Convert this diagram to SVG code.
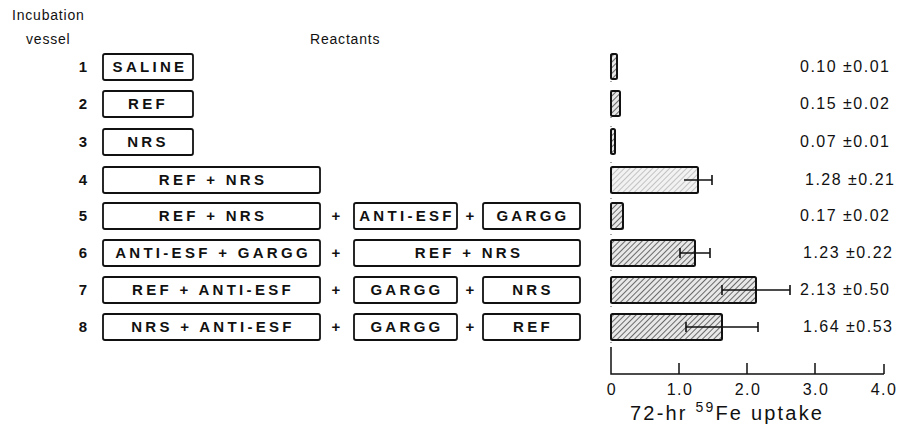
<svg xmlns="http://www.w3.org/2000/svg" width="906" height="436" viewBox="0 0 906 436">
<style>
.hdr{font-family:"Liberation Sans",Arial,sans-serif;font-size:14px;fill:#111;letter-spacing:0.8px}
.num{font-family:"Liberation Sans",Arial,sans-serif;font-size:15px;font-weight:bold;fill:#111;text-anchor:middle}
.box{fill:#fff;stroke:#111;stroke-width:1.8}
.lbl{font-family:"Liberation Sans",Arial,sans-serif;font-size:15px;font-weight:bold;fill:#111;text-anchor:middle;letter-spacing:3.3px}
.plus{font-family:"Liberation Sans",Arial,sans-serif;font-size:15px;font-weight:bold;fill:#111;text-anchor:middle}
.bar{fill:url(#hatch);stroke:#111;stroke-width:2}
.barl{fill:url(#hatchl);stroke:#111;stroke-width:2}
.err{stroke:#111;stroke-width:1.6;fill:none}
.val{font-family:"Liberation Sans",Arial,sans-serif;font-size:16px;fill:#111;letter-spacing:1.5px}
.tick{font-family:"Liberation Sans",Arial,sans-serif;font-size:16px;fill:#111;text-anchor:middle;letter-spacing:1.5px}
.axis{stroke:#111;stroke-width:1.5;fill:none}
</style>
<defs>
<pattern id="hatch" patternUnits="userSpaceOnUse" width="4" height="4" patternTransform="rotate(45)">
<rect width="4" height="4" fill="#e8e8e8"/>
<line x1="0" y1="0" x2="0" y2="4" stroke="#333" stroke-width="1.4"/>
</pattern>
<pattern id="hatchl" patternUnits="userSpaceOnUse" width="4" height="4" patternTransform="rotate(45)">
<rect width="4" height="4" fill="#f2f2f2"/>
<line x1="0" y1="0" x2="0" y2="4" stroke="#888" stroke-width="0.9"/>
</pattern>
</defs>
<rect width="906" height="436" fill="#fff"/>

<g id="headers">
<text class="hdr" x="12" y="20">Incubation</text>
<text class="hdr" x="26" y="44">vessel</text>
<text class="hdr" x="310" y="44">Reactants</text>
</g>

<g id="row1">
<text class="num" x="83" y="72">1</text>
<rect class="box" x="103" y="54" width="90" height="26" rx="2"/>
<text class="lbl" x="150" y="72">SALINE</text>
</g>
<g id="row2">
<text class="num" x="83" y="109">2</text>
<rect class="box" x="103" y="91" width="90" height="26" rx="2"/>
<text class="lbl" x="148" y="109">REF</text>
</g>
<g id="row3">
<text class="num" x="83" y="147">3</text>
<rect class="box" x="103" y="129" width="90" height="26" rx="2"/>
<text class="lbl" x="148" y="147">NRS</text>
</g>
<g id="row4">
<text class="num" x="83" y="185">4</text>
<rect class="box" x="103" y="167" width="217" height="26" rx="2"/>
<text class="lbl" x="213" y="185">REF + NRS</text>
</g>
<g id="row5">
<text class="num" x="83" y="221">5</text>
<rect class="box" x="103" y="203" width="217" height="26" rx="2"/>
<text class="lbl" x="213" y="221">REF + NRS</text>
<text class="plus" x="336" y="221">+</text>
<rect class="box" x="354" y="203" width="103" height="26" rx="2"/>
<text class="lbl" x="407" y="221">ANTI-ESF</text>
<text class="plus" x="470" y="221">+</text>
<rect class="box" x="483" y="203" width="97" height="26" rx="2"/>
<text class="lbl" x="533" y="221">GARGG</text>
</g>
<g id="row6">
<text class="num" x="83" y="258">6</text>
<rect class="box" x="103" y="240" width="217" height="26" rx="2"/>
<text class="lbl" x="213" y="258">ANTI-ESF + GARGG</text>
<text class="plus" x="336" y="258">+</text>
<rect class="box" x="354" y="240" width="226" height="26" rx="2"/>
<text class="lbl" x="469" y="258">REF + NRS</text>
</g>
<g id="row7">
<text class="num" x="83" y="295">7</text>
<rect class="box" x="103" y="277" width="217" height="26" rx="2"/>
<text class="lbl" x="213" y="295">REF + ANTI-ESF</text>
<text class="plus" x="336" y="295">+</text>
<rect class="box" x="354" y="277" width="103" height="26" rx="2"/>
<text class="lbl" x="407" y="295">GARGG</text>
<text class="plus" x="470" y="295">+</text>
<rect class="box" x="483" y="277" width="97" height="26" rx="2"/>
<text class="lbl" x="533" y="295">NRS</text>
</g>
<g id="row8">
<text class="num" x="83" y="332">8</text>
<rect class="box" x="103" y="314" width="217" height="26" rx="2"/>
<text class="lbl" x="213" y="332">NRS + ANTI-ESF</text>
<text class="plus" x="336" y="332">+</text>
<rect class="box" x="354" y="314" width="103" height="26" rx="2"/>
<text class="lbl" x="407" y="332">GARGG</text>
<text class="plus" x="470" y="332">+</text>
<rect class="box" x="483" y="314" width="97" height="26" rx="2"/>
<text class="lbl" x="533" y="332">REF</text>
</g>

<g id="chart">
<line x1="611" y1="54" x2="611" y2="347" stroke="#555" stroke-width="1" stroke-dasharray="1,8"/>
<rect class="bar" x="611" y="54" width="6" height="25" rx="1.5"/>
<rect class="bar" x="611" y="91" width="9" height="25" rx="1.5"/>
<rect class="bar" x="611" y="129" width="4" height="25" rx="1.5"/>
<rect class="barl" x="611" y="167" width="87" height="26" rx="1.5"/>
<rect class="bar" x="611" y="203" width="12" height="26" rx="1.5"/>
<rect class="bar" x="611" y="240" width="84" height="26" rx="1.5"/>
<rect class="bar" x="611" y="277" width="145" height="26" rx="1.5"/>
<rect class="bar" x="611" y="314" width="111" height="26" rx="1.5"/>
<path class="err" d="M684 180H712M712 175V185"/>
<path class="err" d="M680 253H710M680 248V258M710 248V258"/>
<path class="err" d="M722 290H790M722 285V295M790 285V295"/>
<path class="err" d="M686 327H758M686 322V332M758 322V332"/>
<text class="val" x="800" y="72">0.10 ±0.01</text>
<text class="val" x="800" y="109">0.15 ±0.02</text>
<text class="val" x="800" y="147">0.07 ±0.01</text>
<text class="val" x="805" y="185">1.28 ±0.21</text>
<text class="val" x="800" y="221">0.17 ±0.02</text>
<text class="val" x="803" y="258">1.23 ±0.22</text>
<text class="val" x="800" y="295">2.13 ±0.50</text>
<text class="val" x="803" y="332">1.64 ±0.53</text>
</g>

<g id="axis">
<path class="axis" d="M611 347V374H884M679 363V374M747 363V374M815 363V374M884 364V374"/>
<text class="tick" x="612" y="395">0</text>
<text class="tick" x="680" y="395">1.0</text>
<text class="tick" x="748" y="395">2.0</text>
<text class="tick" x="816" y="395">3.0</text>
<text class="tick" x="884" y="395">4.0</text>
<text x="630" y="420" font-family="Liberation Sans, Arial, sans-serif" font-size="20" fill="#111" letter-spacing="2.2">72-hr <tspan font-size="14" dy="-8">59</tspan><tspan dy="8">Fe uptake</tspan></text>
</g>
</svg>
